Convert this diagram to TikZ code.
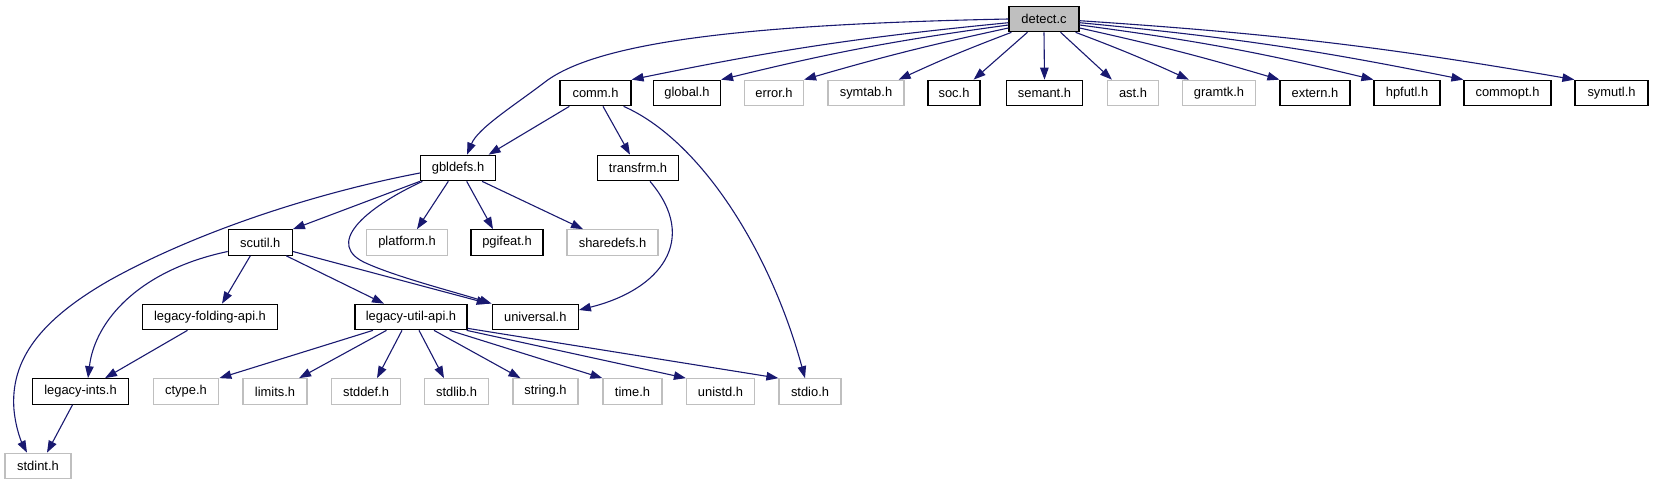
\documentclass[tikz,border=0pt]{standalone}
\usepackage{fontspec}
\setmainfont{Liberation Sans}
\usetikzlibrary{arrows.meta}
\definecolor{edgec}{HTML}{191970}
\definecolor{lgray}{HTML}{BFBFBF}
\begin{document}
\begin{tikzpicture}[x=1pt,y=-1pt,
  hnode/.style={rectangle, inner sep=0pt, minimum height=25.5pt, font=\fontsize{12.9pt}{15pt}\selectfont, text=black},
  doc/.style={hnode, draw=black, line width=1.2pt},
  undoc/.style={hnode, draw=lgray, line width=1.2pt},
  wd/.style={minimum width=#1pt},
  dep/.style={draw=edgec, line width=1.1pt, -{Triangle[length=12pt,width=8.5pt]}},
]
\useasboundingbox (0,0) rectangle (1653,485);
% nodes
\node[doc, fill=lgray, wd=70] (detect) at (1044,19) {detect.c};
\node[doc, wd=71] (comm) at (595.5,93) {comm.h};
\node[doc, wd=67] (global) at (687,93) {global.h};
\node[undoc, wd=59] (error) at (774,93) {error.h};
\node[undoc, wd=76] (symtab) at (866,93) {symtab.h};
\node[doc, wd=52] (soc) at (954,93) {soc.h};
\node[doc, wd=76] (semant) at (1044.5,93) {semant.h};
\node[undoc, wd=51] (ast) at (1133,93) {ast.h};
\node[undoc, wd=73] (gramtk) at (1219,93) {gramtk.h};
\node[doc, wd=70] (extern) at (1315,93) {extern.h};
\node[doc, wd=66] (hpfutl) at (1407,93) {hpfutl.h};
\node[doc, wd=87] (commopt) at (1507.5,93) {commopt.h};
\node[doc, wd=73] (symutl) at (1611.5,93) {symutl.h};
\node[doc, wd=75] (gbldefs) at (458,168) {gbldefs.h};
\node[doc, wd=81] (transfrm) at (638,168) {transfrm.h};
\node[doc, wd=64] (scutil) at (260.3,242.5) {scutil.h};
\node[undoc, wd=80.5] (platform) at (407,242.5) {platform.h};
\node[doc, wd=72] (pgifeat) at (507,242.5) {pgifeat.h};
\node[undoc, wd=91] (sharedefs) at (612.5,242.5) {sharedefs.h};
\node[doc, wd=135] (legfold) at (210,317) {legacy-folding-api.h};
\node[doc, wd=112] (legutil) at (411,317) {legacy-util-api.h};
\node[doc, wd=86] (universal) at (535.3,317) {universal.h};
\node[doc, wd=96] (legints) at (80.5,391.5) {legacy-ints.h};
\node[undoc, wd=65.5] (ctype) at (186,391.5) {ctype.h};
\node[undoc, wd=64] (limits) at (275,391.5) {limits.h};
\node[undoc, wd=69] (stddef) at (366,391.5) {stddef.h};
\node[undoc, wd=64] (stdlib) at (456.5,391.5) {stdlib.h};
\node[undoc, wd=65] (string) at (545.5,391.5) {string.h};
\node[undoc, wd=59] (time) at (632.5,391.5) {time.h};
\node[undoc, wd=68] (unistd) at (720.5,391.5) {unistd.h};
\node[undoc, wd=62] (stdio) at (810,391.5) {stdio.h};
\node[undoc, wd=66] (stdint) at (38,466) {stdint.h};
% edges from detect.c
\draw[dep] (detect.west) .. controls (760,24) and (600,40) .. (545,82) .. controls (515,105) and (478,128) .. ([xshift=9pt]gbldefs.north);
\draw[dep] ([yshift=-3.7pt]detect.west) to[bend right=3] (comm.north east);
\draw[dep] ([yshift=-6pt]detect.west) to[bend right=3] (global.north east);
\draw[dep] ([yshift=-9pt]detect.west) to[bend right=2] (error.north east);
\draw[dep] ([xshift=3pt]detect.south west) to[bend right=2] ([xshift=-6pt]symtab.north east);
\draw[dep] ([xshift=19pt]detect.south west) -- ([xshift=-7pt]soc.north east);
\draw[dep] (detect.south) -- (semant.north);
\draw[dep] ([xshift=-19pt]detect.south east) -- ([xshift=5pt]ast.north west);
\draw[dep] ([xshift=-4pt]detect.south east) to[bend left=2] ([xshift=7pt]gramtk.north west);
\draw[dep] ([yshift=-9pt]detect.east) to[bend left=2] (extern.north west);
\draw[dep] ([yshift=-6pt]detect.east) to[bend left=3] (hpfutl.north west);
\draw[dep] ([yshift=-3.7pt]detect.east) to[bend left=3] (commopt.north west);
\draw[dep] ([yshift=-1.7pt]detect.east) to[bend left=3] (symutl.north west);
% edges from comm.h
\draw[dep] ([xshift=10pt]comm.south west) -- ([xshift=-7.5pt]gbldefs.north east);
\draw[dep] ([xshift=7.5pt]comm.south) -- ([xshift=-8pt]transfrm.north);
\draw[dep] ([xshift=-8pt]comm.south east) .. controls (700,140) and (770,250) .. ([xshift=-5pt]stdio.north);
% transfrm.h
\draw[dep] ([xshift=12pt]transfrm.south) .. controls (700,240) and (660,290) .. ([yshift=7pt]universal.east);
% gbldefs.h
\draw[dep] ([yshift=-5pt]gbldefs.west) .. controls (320,192) and (200,230) .. (110,280) .. controls (40,320) and (10,360) .. (14,410) .. controls (16,430) and (22,443) .. ([xshift=-11pt]stdint.north);
\draw[dep] (gbldefs.south west) -- (scutil.north east);
\draw[dep] ([xshift=2.5pt]gbldefs.south west) .. controls (365,208) and (322,245) .. (368,264) .. controls (400,278) and (455,292) .. (universal.north west);
\draw[dep] ([xshift=-9.7pt]gbldefs.south) -- ([xshift=10pt]platform.north);
\draw[dep] ([xshift=8.7pt]gbldefs.south) -- ([xshift=-14pt]pgifeat.north);
\draw[dep] ([xshift=-14pt]gbldefs.south east) -- ([xshift=-29.5pt]sharedefs.north);
% scutil.h
\draw[dep] ([xshift=-10pt]scutil.south) -- ([xshift=12pt]legfold.north);
\draw[dep] ([xshift=26pt]scutil.south) -- ([xshift=-27pt]legutil.north);
\draw[dep] ([yshift=-9pt]scutil.east) -- ([xshift=-3pt]universal.north west);
\draw[dep] ([yshift=-9pt]scutil.west) .. controls (140,270) and (95,320) .. ([xshift=7.5pt]legints.north);
% legacy-folding-api.h
\draw[dep] ([xshift=-22.5pt]legfold.south) -- ([xshift=24.5pt]legints.north);
% legacy-ints.h
\draw[dep] ([xshift=-8pt]legints.south) -- ([xshift=9pt]stdint.north);
% legacy-util-api.h
\draw[dep] ([xshift=-38pt]legutil.south) -- (ctype.north east);
\draw[dep] ([xshift=-24.5pt]legutil.south) -- ([xshift=-8.5pt]limits.north east);
\draw[dep] ([xshift=-9pt]legutil.south) -- ([xshift=11pt]stddef.north);
\draw[dep] ([xshift=8pt]legutil.south) -- ([xshift=-12.5pt]stdlib.north);
\draw[dep] ([xshift=23pt]legutil.south) -- ([xshift=-25pt]string.north);
\draw[dep] ([xshift=-18pt]legutil.south east) -- (time.north west);
\draw[dep] ([xshift=-1pt]legutil.south east) -- (unistd.north west);
\draw[dep] ([yshift=2pt]legutil.south east) -- (stdio.north west);
\end{tikzpicture}
\end{document}
